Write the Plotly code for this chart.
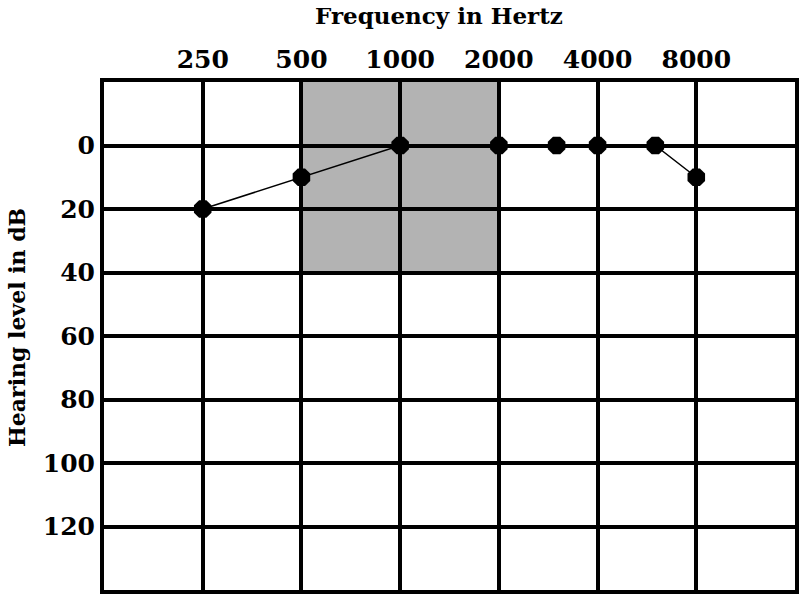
import plotly.graph_objects as go

# audiogram readings
freqs = [250, 500, 1000, 2000, 3000, 4000, 6000, 8000]
levels = [20, 10, 0, 0, 0, 0, 0, 10]

x_ticks = [250, 500, 1000, 2000, 4000, 8000]
x_grid = [125, 250, 500, 1000, 2000, 4000, 8000, 16000]
y_ticks = [0, 20, 40, 60, 80, 100, 120]

# shaded speech band
band_freqs = [500, 2000]
band_levels = [-20, 40]

FONT = "DejaVu Serif"

fig = go.Figure()

fig.add_trace(go.Scatter(
    x=freqs, y=levels,
    mode="lines+markers",
    line=dict(color="black", width=1.5),
    marker=dict(color="black", size=19, symbol="octagon"),
    showlegend=False,
    hoverinfo="skip"))

fig.add_shape(type="rect", xref="x", yref="y",
              x0=band_freqs[0], x1=band_freqs[1],
              y0=band_levels[0], y1=band_levels[1],
              fillcolor="#b3b3b3", line=dict(width=0), layer="below")

fig.update_xaxes(
    type="log", side="top",
    range=[2.0969, 4.2041],
    tickvals=x_grid,
    ticktext=["" if f not in x_ticks else str(f) for f in x_grid],
    showgrid=True, gridcolor="black", gridwidth=4,
    showline=True, linecolor="black", linewidth=4, mirror=True,
    ticks="", zeroline=False, automargin=False,
    tickfont=dict(family=FONT, size=25, color="black", weight="bold"))

fig.update_yaxes(
    range=[140, -20],
    tickvals=y_ticks,
    showgrid=True, gridcolor="black", gridwidth=4,
    showline=True, linecolor="black", linewidth=4, mirror=True,
    ticks="", zeroline=False, automargin=False,
    tickfont=dict(family=FONT, size=25, color="black", weight="bold"))

# axis titles as annotations so they can sit where the original has them
fig.add_annotation(text="Frequency in Hertz", xref="paper", yref="paper",
                   x=0.5, y=1, xanchor="center", yanchor="middle",
                   xshift=-11, yshift=67, showarrow=False,
                   font=dict(family=FONT, size=23, color="black", weight="bold"))
fig.add_annotation(text="Hearing level in dB", xref="paper", yref="paper",
                   x=0, y=0.5, xanchor="center", yanchor="middle",
                   xshift=-87, yshift=8, textangle=-90, showarrow=False,
                   font=dict(family=FONT, size=22, color="black", weight="bold"))

fig.update_layout(
    width=800, height=598,
    margin=dict(l=104, r=5, t=82, b=8),
    paper_bgcolor="white", plot_bgcolor="white")

# drop the default page margin so the figure fills the window exactly
fig.write_html("out.html", config={"displayModeBar": False},
               post_script="document.body.style.margin='0';")
